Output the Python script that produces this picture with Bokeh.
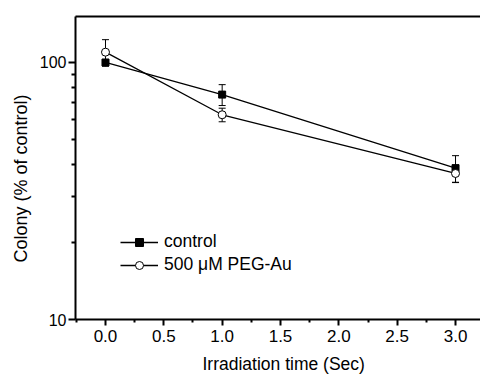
from bokeh.plotting import figure
from bokeh.models import (FixedTicker, LinearAxis, Legend, LegendItem, Whisker,
                          ColumnDataSource, PrintfTickFormatter, TeeHead, Range1d, Title)
from bokeh.embed import file_html
from bokeh.resources import INLINE

# ---- data ----
time_sec = [0.0, 1.0, 3.0]
control = [100.0, 75.0, 38.8]
control_err = [2.0, 7.0, 4.6]
peg_au = [109.7, 62.6, 37.0]
peg_au_err = [13.0, 3.8, 2.9]

x_major = [0.0, 0.5, 1.0, 1.5, 2.0, 2.5, 3.0]
x_minor = [-0.25, 0.25, 0.75, 1.25, 1.75, 2.25, 2.75, 3.25]
y_major = [10, 100]
y_minor = [20, 30, 40, 50, 60, 70, 80, 90]

FONT = "Liberation Sans"

p = figure(width=480, height=381, output_backend="svg", toolbar_location=None,
           y_axis_type="log",
           x_range=Range1d(-0.257, 3.214), y_range=Range1d(10, 151),
           min_border_left=75, min_border_right=0, min_border_top=16,
           min_border_bottom=62)
p.outline_line_color = None
p.grid.visible = False
p.background_fill_color = "white"

src_c = ColumnDataSource(dict(x=time_sec, y=control,
                              upper=[v + e for v, e in zip(control, control_err)],
                              lower=[v - e for v, e in zip(control, control_err)]))
src_p = ColumnDataSource(dict(x=time_sec, y=peg_au,
                              upper=[v + e for v, e in zip(peg_au, peg_au_err)],
                              lower=[v - e for v, e in zip(peg_au, peg_au_err)]))

line_c = p.line("x", "y", source=src_c, line_color="black", line_width=1.3)
line_p = p.line("x", "y", source=src_p, line_color="black", line_width=1.3)

for src in (src_c, src_p):
    w = Whisker(source=src, base="x", upper="upper", lower="lower",
                line_color="black", line_width=1,
                upper_head=TeeHead(size=7, line_color="black", line_width=1),
                lower_head=TeeHead(size=7, line_color="black", line_width=1))
    p.add_layout(w)

sc_c = p.scatter("x", "y", source=src_c, marker="square", size=7,
                 fill_color="black", line_color="black")
sc_p = p.scatter("x", "y", source=src_p, marker="circle", size=8,
                 fill_color="white", line_color="black", line_width=1)

# axes
xa = p.xaxis[0]
xa.ticker = FixedTicker(ticks=x_major, minor_ticks=x_minor)
xa.formatter = PrintfTickFormatter(format="%.1f")
ya = p.yaxis[0]
ya.ticker = FixedTicker(ticks=y_major, minor_ticks=y_minor)
ya.formatter = PrintfTickFormatter(format="%d")

for ax in (xa, ya):
    ax.axis_line_width = 2
    ax.axis_line_color = "black"
    ax.major_tick_line_width = 2
    ax.minor_tick_line_width = 2
    ax.major_tick_in = 0
    ax.minor_tick_in = 0
    ax.major_label_text_font = FONT
    ax.major_label_text_color = "black"
xa.major_label_text_font_size = "17px"
ya.major_label_text_font_size = "16px"
xa.major_tick_out = 6
xa.minor_tick_out = 3
ya.major_tick_out = 7
ya.minor_tick_out = 4
xa.major_label_standoff = 4
ya.major_label_standoff = 2

top = LinearAxis(ticker=FixedTicker(ticks=[]), axis_line_width=2,
                 axis_line_color="black", major_label_text_font_size="0px",
                 major_tick_out=0, minor_tick_out=0)
p.add_layout(top, "above")

# axis titles (as titles so they can be nudged like the reference)
xtitle = Title(text="Irradiation time (Sec)", align="left", offset=127,
               standoff=15, text_font=FONT, text_font_size="17.5px",
               text_font_style="normal", text_color="black")
p.add_layout(xtitle, "below")
ytitle = Title(text="Colony (% of control)", align="left", offset=57,
               standoff=12, text_font=FONT, text_font_size="18px",
               text_font_style="normal", text_color="black")
p.add_layout(ytitle, "left")

legend = Legend(items=[LegendItem(label="control", renderers=[line_c, sc_c]),
                       LegendItem(label="500 μM PEG-Au", renderers=[line_p, sc_p])],
                location=(45, 44), padding=0, margin=0, spacing=2,
                glyph_width=38, glyph_height=20, label_height=20,
                label_standoff=6, border_line_color=None,
                background_fill_alpha=0,
                label_text_font=FONT, label_text_font_size="17.5px",
                label_text_color="black")
p.add_layout(legend)

open("out.html", "w").write(file_html(p, INLINE))
